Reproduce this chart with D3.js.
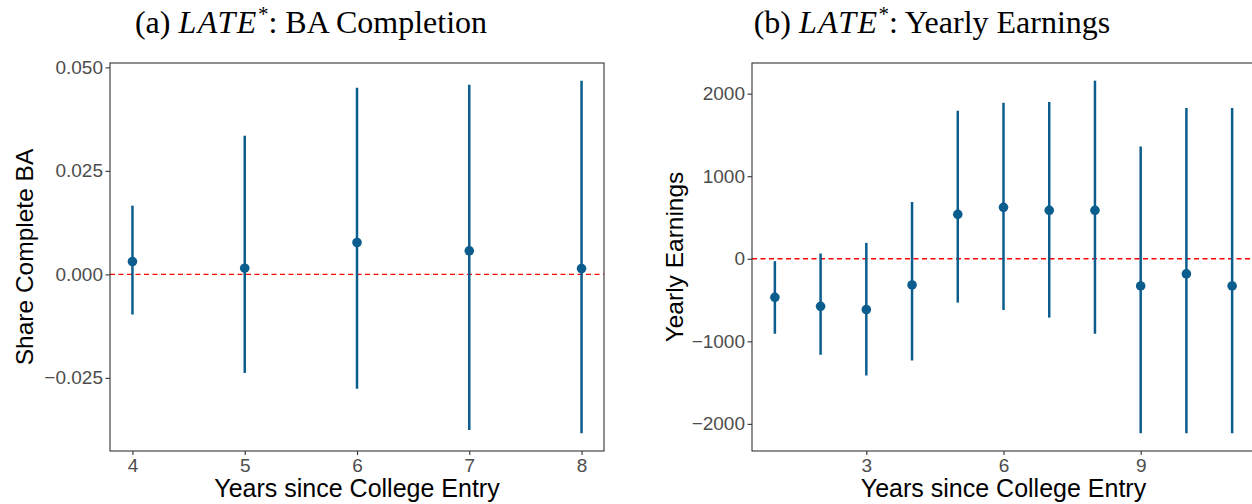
<!DOCTYPE html>
<html>
<head>
<meta charset="utf-8">
<script src="https://cdn.jsdelivr.net/npm/d3@7/dist/d3.min.js"></script>
<style>
  body { margin: 0; background: #fff; }
  svg { display: block; }
</style>
</head>
<body>
<div id="chart"></div>
<script>
// panel (a): BA completion
var baYears = [4, 5, 6, 7, 8];
var baEst   = [0.0031, 0.0015, 0.0077, 0.0057, 0.0014];
var baLow   = [-0.0097, -0.0238, -0.0276, -0.0376, -0.0384];
var baHigh  = [0.0166, 0.0335, 0.0451, 0.0458, 0.0468];
var baYTicks = [-0.025, 0, 0.025, 0.05];
var baXTicks = [4, 5, 6, 7, 8];

// panel (b): yearly earnings
var earnYears = [1, 2, 3, 4, 5, 6, 7, 8, 9, 10, 11];
var earnEst   = [-467, -576, -616, -317, 538, 623, 587, 587, -329, -183, -329];
var earnLow   = [-908, -1163, -1414, -1232, -531, -621, -713, -908, -2115, -2115, -2115];
var earnHigh  = [-29, 64, 193, 688, 1793, 1890, 1899, 2158, 1360, 1826, 1826];
var earnYTicks = [-2000, -1000, 0, 1000, 2000];
var earnXTicks = [3, 6, 9];

var W = 1252, H = 504;
var ptColor = "#0b5d8e";
var sansFont = "'Liberation Sans', Arial, sans-serif";
var serifFont = "'Liberation Serif', 'Times New Roman', serif";

var svg = d3.select("#chart").append("svg")
    .attr("width", W).attr("height", H);

// ggplot-like 5% expansion
function expand(lo, hi, f) {
    var pad = (hi - lo) * f;
    return [lo - pad, hi + pad];
}

function drawPanel(p) {
    var x = d3.scaleLinear()
        .domain(expand(d3.min(p.years), d3.max(p.years), p.xExpand))
        .range([p.left, p.right]);
    var y = d3.scaleLinear()
        .domain(expand(d3.min(p.low), d3.max(p.high), 0.05))
        .range([p.bottom, p.top]);

    var g = svg.append("g");

    // zero line
    g.append("line")
        .attr("x1", p.left).attr("x2", p.right)
        .attr("y1", y(0)).attr("y2", y(0))
        .attr("stroke", "#ff0000")
        .attr("stroke-width", 1.3)
        .attr("stroke-dasharray", "5,3.5");

    var rows = p.years.map(function (d, i) {
        return { yr: d, est: p.est[i], lo: p.low[i], hi: p.high[i] };
    });

    g.selectAll(".ci").data(rows).enter()
        .append("line")
        .attr("class", "ci")
        .attr("x1", function (d) { return x(d.yr); })
        .attr("x2", function (d) { return x(d.yr); })
        .attr("y1", function (d) { return y(d.lo); })
        .attr("y2", function (d) { return y(d.hi); })
        .attr("stroke", ptColor)
        .attr("stroke-width", 2.5);

    g.selectAll(".pt").data(rows).enter()
        .append("circle")
        .attr("class", "pt")
        .attr("cx", function (d) { return x(d.yr); })
        .attr("cy", function (d) { return y(d.est); })
        .attr("r", 4.8)
        .attr("fill", ptColor);

    // panel border
    g.append("rect")
        .attr("x", p.left).attr("y", p.top)
        .attr("width", p.right - p.left).attr("height", p.bottom - p.top)
        .attr("fill", "none")
        .attr("stroke", "#333333")
        .attr("stroke-width", 1.1);

    var yAxis = g.append("g")
        .attr("transform", "translate(" + p.left + ",0)")
        .call(d3.axisLeft(y).tickValues(p.yTicks).tickFormat(p.fmt).tickSize(4.5).tickPadding(2.5));
    var xAxis = g.append("g")
        .attr("transform", "translate(0," + p.bottom + ")")
        .call(d3.axisBottom(x).tickValues(p.xTicks).tickFormat(d3.format("d")).tickSize(4).tickPadding(4));

    [yAxis, xAxis].forEach(function (a) {
        a.select(".domain").remove();
        a.selectAll(".tick line").attr("stroke", "#333333").attr("stroke-width", 1.1);
        a.selectAll(".tick text")
            .attr("fill", "#4d4d4d")
            .style("font-family", sansFont)
            .style("font-size", "19px");
    });

    // axis titles
    g.append("text")
        .attr("x", (p.left + p.right) / 2)
        .attr("y", 497)
        .attr("text-anchor", "middle")
        .style("font-family", sansFont)
        .style("font-size", "25px")
        .attr("fill", "#000")
        .text("Years since College Entry");

    g.append("text")
        .attr("transform", "translate(" + p.yLabX + "," + ((p.top + p.bottom) / 2) + ") rotate(-90)")
        .attr("text-anchor", "middle")
        .style("font-family", sansFont)
        .style("font-size", "24.5px")
        .attr("fill", "#000")
        .text(p.yLabel);

    // subfigure title
    var t = svg.append("text")
        .attr("x", p.titleX).attr("y", 33)
        .attr("text-anchor", "middle")
        .style("font-family", serifFont)
        .style("font-size", "32px")
        .attr("fill", "#000");
    t.append("tspan").text(p.tag + " ");
    t.append("tspan").style("font-style", "italic").attr("letter-spacing", "1.5px").text("LATE");
    t.append("tspan").attr("dy", -12).style("font-size", "21px").text("*");
    t.append("tspan").attr("dy", 12).text(": " + p.title);
}

drawPanel({
    years: baYears, est: baEst, low: baLow, high: baHigh,
    yTicks: baYTicks, xTicks: baXTicks, xExpand: 0.05,
    fmt: d3.format(".3f"),
    left: 110, right: 604, top: 63, bottom: 451,
    yLabX: 33, yLabel: "Share Complete BA",
    titleX: 311, tag: "(a)", title: "BA Completion"
});

drawPanel({
    years: earnYears, est: earnEst, low: earnLow, high: earnHigh,
    yTicks: earnYTicks, xTicks: earnXTicks, xExpand: 0.05,
    fmt: d3.format("d"),
    left: 752, right: 1255, top: 63, bottom: 451,
    yLabX: 683, yLabel: "Yearly Earnings",
    titleX: 932, tag: "(b)", title: "Yearly Earnings"
});
</script>
</body>
</html>
